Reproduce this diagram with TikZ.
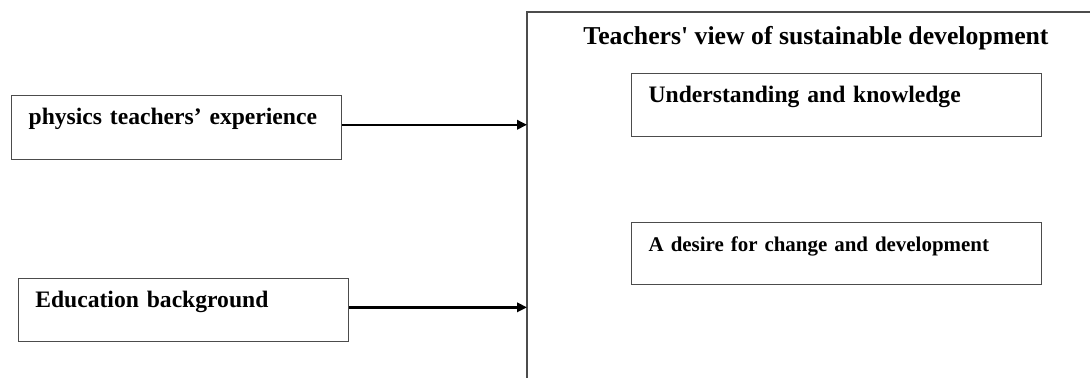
\documentclass[tikz,border=0pt]{standalone}
\usepackage{fontspec}
\setmainfont{Liberation Serif}
\usetikzlibrary{arrows.meta}

\begin{document}
\begin{tikzpicture}[x=0.75pt, y=-0.75pt,
    box/.style={draw=black!70, line width=1pt, anchor=north west,
        inner ysep=0pt, inner xsep=12.75pt, align=left, text width=#1,
        text height=21.75pt, font=\fontsize{17.7}{20}\selectfont\bfseries},
    frame/.style={draw=black!70, line width=1pt},
    arr/.style={-{Triangle[length=7.5pt,width=7pt]}, line width=1.8pt}]
    \useasboundingbox (0,0) rectangle (1090,378);

    % outer frame (runs off the right and bottom edges)
    \coordinate (fb) at (527,378);
    \coordinate (fl) at (527,12);
    \coordinate (fr) at (1090,12);
    \draw[frame] (fb) -- (fl) -- (fr);

    \node[anchor=base, font=\fontsize{19.3}{22}\selectfont\bfseries] (title) at (816,45)
        {Teachers\textquotesingle{} view of sustainable development};

    \node[box=222pt, text depth=25.9pt] (exp) at (11,95)    {physics teachers’ experience};
    \node[box=222pt, text depth=25.7pt] (edu) at (17.7,277.7) {Education background};
    \node[box=282pt, text depth=25.5pt] (und) at (631,73)   {Understanding and knowledge};
    \node[box=282pt, text depth=24.7pt, font=\fontsize{15.7}{19}\selectfont\bfseries]
        (des) at (631,222) {A desire for change and development};

    \draw[arr] ([yshift=2pt]exp.east) -- ([yshift=2pt]exp.east -| fl);
    \draw[arr] ([yshift=2pt]edu.east) -- ([yshift=2pt]edu.east -| fl);
\end{tikzpicture}
\end{document}
